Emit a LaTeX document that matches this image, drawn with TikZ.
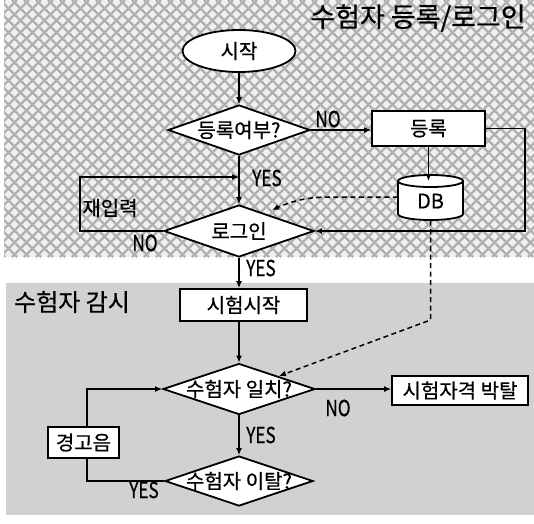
\documentclass[tikz,border=0pt]{standalone}
\usepackage{fontspec}
\usepackage{graphicx}
\setmainfont{Noto Sans CJK KR}[FakeBold=0.6]
\usetikzlibrary{shapes.geometric,arrows.meta,calc}
\tikzset{
 ln/.style={line width=1.8pt},
 arr/.style={ln,-{Latex[length=7pt,width=6pt]}},
 dsh/.style={line width=1.5pt,dash pattern=on 5pt off 3.5pt,-{Latex[length=7pt,width=6pt]}},
 box/.style={draw,ln,fill=white,rectangle,inner sep=0pt,font=\fontsize{20}{22}\selectfont},
 dia/.style={draw,ln,fill=white,diamond,inner sep=0pt},
 lbl/.style={font=\fontsize{20}{22}\selectfont,inner sep=0pt},
 yn/.style={font=\fontsize{22}{24}\selectfont,inner sep=0pt},
}
\newcommand{\yn}[1]{\scalebox{0.78}[1]{#1}}
\begin{document}
\begin{tikzpicture}[x=1pt,y=-1pt]
\useasboundingbox (0,0) rectangle (534,523);
% backgrounds
\fill[gray!12] (4,0) rectangle (534,257);
\begin{scope}
\clip (4,0) rectangle (534,257);
\foreach \i in {-264,-252,...,540} {
  \draw[gray!62,line width=2.2pt] (\i,0) -- ++(257,257);
  \draw[gray!62,line width=2.2pt] (\i,257) -- ++(257,-257);
}
\end{scope}
\fill[black!18] (6,283) rectangle (534,515);

% titles
\node[font=\fontsize{27}{30}\selectfont,inner sep=0pt] (t1) at (418,18) {수험자 등록/로그인};
\node[font=\fontsize{24}{28}\selectfont,inner sep=0pt] (t2) at (72,302) {수험자 감시};

% nodes
\node[draw,ln,fill=white,ellipse,minimum width=113pt,minimum height=42pt,inner sep=0pt,font=\fontsize{20}{22}\selectfont] (start) at (239,51) {시작};
\node[dia,minimum width=142pt,minimum height=50pt] (d1) at (239,130) {};
\node[lbl] (d1t) at (d1) {등록여부?};
\node[box,minimum width=113pt,minimum height=35pt] (reg) at (428.5,128.5) {등록};

\coordinate (dbc) at (430.5,181);
\path[draw,ln,fill=white] (398,181) -- (398,214) arc[start angle=180,end angle=0,x radius=32.5,y radius=6] -- (463,181);
\draw[ln,fill=white] (dbc) ellipse[x radius=32.5,y radius=6];
\node[lbl,minimum width=65pt,minimum height=39pt] (db) at (430.5,201) {DB};

\node[dia,minimum width=150pt,minimum height=52pt] (d2) at (239,231) {};
\node[lbl] (d2t) at (d2) {로그인};
\node[box,minimum width=127pt,minimum height=32pt] (b3) at (243.5,305) {시험시작};
\node[dia,minimum width=152pt,minimum height=51pt] (d3) at (239,389) {};
\node[lbl] (d3t) at (d3) {수험자 일치?};
\node[box,minimum width=136pt,minimum height=29pt] (b4) at (460,390.5) {시험자격 박탈};
\node[dia,minimum width=148pt,minimum height=50pt] (d4) at (239,481) {};
\node[lbl] (d4t) at (d4) {수험자 이탈?};
\node[box,minimum width=71pt,minimum height=31pt] (b5) at (83.5,442.5) {경고음};

% helper coordinates
\coordinate (rr) at (525,0);
\coordinate (lc) at (80,177);
\coordinate (dbt) at (272,210);
\coordinate (dk) at (430.5,320);
\coordinate (dtip) at (279,376);
\coordinate (lx) at (87,0);

% connectors
\draw[arr] (start.south) -- (d1.north);
\draw[arr] (d1.east) -- (d1.east -| reg.west);
\draw[arr] (reg.east) -- (reg.east -| rr) |- (d2.east);
\draw[arr] (reg.south) -- (reg.south |- dbc);
\draw[dsh] ($(db.west)+(0,-4)$) -- ++(-68,0) .. controls (305,197) and (290,202) .. (dbt);
\draw[arr] (d1.south) -- (d2.north);
\draw[arr] (d2.west) -| (lc) -- (lc -| d1.south);
\draw[arr] (d2.south) -- (d2.south |- b3.north);
\draw[arr] (d3.north |- b3.south) -- (d3.north);
\draw[dsh] (db.south) -- (dk) -- (dtip);
\draw[arr] (d3.east) -- (d3.east -| b4.west);
\draw[arr] (d3.south) -- (d4.north);
\draw[ln] (d4.west) -| (lx |- b5.south);
\draw[arr] (lx |- b5.north) |- (d3.west);

% labels
\node[yn] (n1) at (328,119) {\yn{NO}};
\node[yn] (y1) at (267,178) {\yn{YES}};
\node[lbl] (re) at (110,208) {재입력};
\node[yn] (n2) at (145,243) {\yn{NO}};
\node[yn] (y2) at (261,268) {\yn{YES}};
\node[yn] (n3) at (338,408) {\yn{NO}};
\node[yn] (y3) at (261,435) {\yn{YES}};
\node[yn] (y4) at (144,490) {\yn{YES}};
\end{tikzpicture}
\end{document}
